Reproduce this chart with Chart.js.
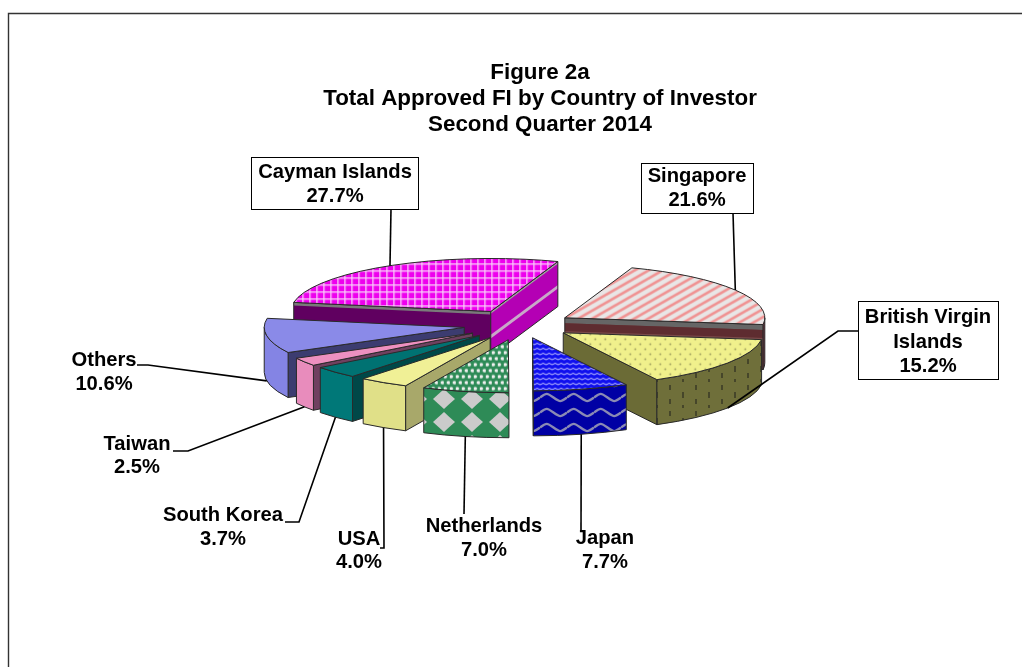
<!DOCTYPE html>
<html><head><meta charset="utf-8">
<style>html,body{margin:0;padding:0;background:#fff;overflow:hidden}canvas{display:block}</style>
<script src="https://cdn.jsdelivr.net/npm/chart.js@4/dist/chart.umd.min.js"></script>
</head><body>
<div style="position:relative;width:1022px;height:667px"><canvas id="c" width="1022" height="667"></canvas></div>
<script>
const categories = ["Singapore","British Virgin Islands","Japan","Netherlands","USA","South Korea","Taiwan","Others","Cayman Islands"];
const shares = [21.6,15.2,7.7,7.0,4.0,3.7,2.5,10.6,27.7];
const explodePx = [52,52,50,57,57,57,57,57,59];
const titleLines = ["Figure 2a","Total Approved FI by Country of Investor","Second Quarter 2014"];

const SQUASH=0.265, DEPTH=45, RADIUS=200, ROTATION=19.6;
const FONT='bold 20.2px "Liberation Sans", Arial, sans-serif';
const OUTLINE='#2a2a2a';

function tile(w,h,paint){const c=document.createElement('canvas');c.width=w;c.height=h;const g=c.getContext('2d');paint(g,w,h);return c;}
const ctxMain=document.getElementById('c').getContext('2d');
function pat(w,h,paint,squashed){const p=ctxMain.createPattern(tile(w,h,paint),'repeat');
  if(squashed)p.setTransform(new DOMMatrix().scale(1,1/SQUASH));return p;}
function bg(g,w,h,col){g.fillStyle=col;g.fillRect(0,0,w,h);}
function dot(g,x,y,r,col){g.fillStyle=col;g.beginPath();g.arc(x,y,r,0,7);g.fill();}
function zig(g,w,h,lw,col,amp){g.strokeStyle=col;g.lineWidth=lw;g.lineJoin='round';
  g.beginPath();g.moveTo(-1,h/2+amp);g.lineTo(w/2,h/2-amp);g.lineTo(w+1,h/2+amp);g.stroke();}
function wave(g,w,h,lw,col,amp){g.strokeStyle=col;g.lineWidth=lw;g.beginPath();
  g.moveTo(0,h/2);g.bezierCurveTo(w/4,h/2-amp*2,w/4,h/2-amp*2,w/2,h/2);g.bezierCurveTo(3*w/4,h/2+amp*2,3*w/4,h/2+amp*2,w,h/2);g.stroke();}
function diamond(g,x,y,rx,ry){g.beginPath();g.moveTo(x,y-ry);g.lineTo(x+rx,y);g.lineTo(x,y+ry);g.lineTo(x-rx,y);g.closePath();g.fill();}

const topFill=[
 pat(14,8,(g,w,h)=>{bg(g,w,h,'#e9e6e6');g.strokeStyle='#f09292';g.lineWidth=2.6;
    for(const s of [-14,0,14]){g.beginPath();g.moveTo(s-2,h+1.2);g.lineTo(s+16,-1.2);g.stroke();}},true),
 pat(10,10,(g,w,h)=>{bg(g,w,h,'#f0f08c');dot(g,2.5,2.5,.9,'#9a9a5c');dot(g,7.5,7.5,.9,'#9a9a5c');},true),
 pat(6,5,(g,w,h)=>{bg(g,w,h,'#1010ee');zig(g,w,h,1,'#c8c8ff',1);},true),
 pat(6,12,(g,w,h)=>{bg(g,w,h,'#2e8b57');dot(g,1.5,3,1.8,'#efefef');dot(g,4.5,9,1.8,'#efefef');dot(g,-1.5,3,1.8,'#efefef');dot(g,7.5,9,1.8,'#efefef');},true),
 '#f0f096','#007272','#ee90c0','#8a8ae8',
 pat(7,7,(g,w,h)=>{bg(g,w,h,'#ee00ee');g.fillStyle='#fad0fa';g.fillRect(3,0,1.3,h);g.fillRect(0,3,w,1.3);},true)
];
const outerFill=[
 '#7a2c3c',
 pat(26,26,(g,w,h)=>{bg(g,w,h,'#6f6f3a');g.fillStyle='#46462a';g.fillRect(6,2,2,6);g.fillRect(19,9,2,5);g.fillRect(6,15,2,3);g.fillRect(19,21,2,5);},false),
 pat(27,15,(g,w,h)=>{bg(g,w,h,'#0000a4');wave(g,w,h,2.4,'#8a8ab4',2.4);},false),
 pat(28,23,(g,w,h)=>{bg(g,w,h,'#2e8b57');g.fillStyle='#cbcbcb';
    for(const dx of [-28,0])for(const y of [-15,8,31])diamond(g,24+dx,y,11,10);},false),
 '#e0e088','#007878','#e88cbc','#8484e4','#b000b0'
];
const radialFill=['#6e3a3a','#6b6b36','#0000a4','#2e8b57','#a8a86a','#004848','#704060','#3c3c70','#600060'];
const radialEndFill={8:'#b400b4'};
const radialBands={0:[[0,.12,'#666666'],[.12,.3,'#5e2c30'],[.3,.5,'#7a4a4a']],8:[[0,.07,'#7a7a7a']]};
const radialEndBands={8:[[0,.05,'#a0a0a0'],[.52,.6,'#c8a8c8']]};
const paintOrder=[8,0,7,6,5,4,3,1,2];

const labelLayout={
 0:{lines:["Singapore"],cx:697,y:[176,200],box:[641,163,112,50],path:[[733,213]]},
 1:{lines:["British Virgin","Islands"],cx:928,y:[317,342,366],box:[858,301,140,78],path:[[838,331],[858,331]]},
 2:{lines:["Japan"],cx:605,y:[538,562],path:[[581,530]]},
 3:{lines:["Netherlands"],cx:484,y:[526,550],path:[[464,514]]},
 4:{lines:["USA"],cx:359,y:[539,562],path:[[384,548],[380,548]]},
 5:{lines:["South Korea"],cx:223,y:[515,539],path:[[299,522],[285,522]]},
 6:{lines:["Taiwan"],cx:137,y:[444,467],path:[[188,451],[173,451]]},
 7:{lines:["Others"],cx:104,y:[360,384],path:[[148,365],[137,365]]},
 8:{lines:["Cayman Islands"],cx:335,y:[172,196],box:[251,157,167,52],path:[[391,209]]}
};

function geom(arc,i){
 const m=(arc.startAngle+arc.endAngle)/2,d=explodePx[i];
 const X=arc.x+Math.cos(m)*d, Y=arc.y+Math.sin(m)*d*SQUASH, R=arc.outerRadius;
 const pt=a=>[X+R*Math.cos(a),Y+R*SQUASH*Math.sin(a)];
 return {m,d,X,Y,R,pt,s:arc.startAngle,e:arc.endAngle};
}
function quad(ctx,a,b,f0,f1){ctx.beginPath();ctx.moveTo(a[0],a[1]+DEPTH*f0);ctx.lineTo(b[0],b[1]+DEPTH*f0);ctx.lineTo(b[0],b[1]+DEPTH*f1);ctx.lineTo(a[0],a[1]+DEPTH*f1);ctx.closePath();}
function radialWall(ctx,a,b,fill,bands){
 quad(ctx,a,b,0,1);ctx.fillStyle=fill;ctx.fill();
 (bands||[]).forEach(t=>{quad(ctx,a,b,t[0],t[1]);ctx.fillStyle=t[2];ctx.fill();});
 quad(ctx,a,b,0,1);ctx.stroke();
}
function outerWall(ctx,g,fill){
 for(let n=-2;n<=2;n++){
  const lo=Math.max(g.s,n*2*Math.PI),hi=Math.min(g.e,n*2*Math.PI+Math.PI);
  if(hi<=lo)continue;
  ctx.beginPath();
  ctx.ellipse(g.X,g.Y,g.R,g.R*SQUASH,0,lo,hi);
  ctx.ellipse(g.X,g.Y+DEPTH,g.R,g.R*SQUASH,0,hi,lo,true);
  ctx.closePath();ctx.fillStyle=fill;ctx.fill();ctx.stroke();
 }
}
const pie3d={
 id:'pie3d',
 afterLayout(chart){const t=chart.titleBlock;t.left+=19.5;t.right+=19.5;},
 beforeDraw(chart){const c=chart.ctx;c.save();c.fillStyle='#fff';c.fillRect(0,0,chart.width,chart.height);
   c.strokeStyle='#333';c.lineWidth=1.4;c.beginPath();c.moveTo(8.5,chart.height);c.lineTo(8.5,13.5);c.lineTo(chart.width,13.5);c.stroke();c.restore();},
 beforeDatasetDraw(chart,args){
  const ctx=chart.ctx,arcs=args.meta.data,cy=arcs[0].y;
  ctx.save();ctx.lineWidth=1;ctx.strokeStyle=OUTLINE;ctx.lineJoin='round';
  paintOrder.forEach(i=>{
   const arc=arcs[i],g=geom(arc,i),tip=[g.X,g.Y],ps=g.pt(g.s),pe=g.pt(g.e);
   if(ps[0]<tip[0]-.5)radialWall(ctx,tip,ps,radialFill[i],radialBands[i]);
   if(pe[0]>tip[0]+.5)radialWall(ctx,tip,pe,radialEndFill[i]||radialFill[i],radialEndBands[i]||radialBands[i]);
   outerWall(ctx,g,outerFill[i]);
   ctx.save();ctx.translate(0,cy);ctx.scale(1,SQUASH);ctx.translate(0,-cy);
   ctx.translate(Math.cos(g.m)*g.d,Math.sin(g.m)*g.d);arc.draw(ctx);ctx.restore();
   ctx.beginPath();ctx.moveTo(tip[0],tip[1]);ctx.ellipse(g.X,g.Y,g.R,g.R*SQUASH,0,g.s,g.e);ctx.closePath();ctx.stroke();
  });
  ctx.restore();
  return false;
 },
 afterDraw(chart){
  const ctx=chart.ctx,arcs=chart.getDatasetMeta(0).data;
  ctx.save();
  arcs.forEach((arc,i)=>{
   const g=geom(arc,i),L=labelLayout[i],p=g.pt(g.m),low=Math.sin(g.m)>0;
   ctx.strokeStyle='#000';ctx.lineWidth=1.6;ctx.beginPath();ctx.moveTo(p[0],p[1]+(low?DEPTH:0));
   L.path.forEach(q=>ctx.lineTo(q[0],q[1]));ctx.stroke();
   if(L.box){ctx.fillStyle='#fff';ctx.fillRect(...L.box);ctx.lineWidth=1;ctx.strokeStyle='#000';
     ctx.strokeRect(L.box[0]+.5,L.box[1]+.5,L.box[2],L.box[3]);}
   ctx.fillStyle='#000';ctx.font=FONT;ctx.textAlign='center';ctx.textBaseline='middle';
   const txt=[...L.lines,shares[i].toFixed(1)+'%'];
   txt.forEach((t,k)=>ctx.fillText(t,L.cx,L.y[k]));
  });
  ctx.restore();
 }
};
new Chart(document.getElementById('c'),{
 type:'pie',
 plugins:[pie3d],
 data:{labels:categories,datasets:[{
   data:shares,
   backgroundColor:topFill,
   borderWidth:0,hoverOffset:0,
   rotation:ROTATION,radius:RADIUS
 }]},
 options:{
  responsive:false,animation:false,events:[],
  layout:{padding:{left:19,right:0,top:0,bottom:155}},
  plugins:{legend:{display:false},tooltip:{enabled:false},
   title:{display:true,text:titleLines,color:'#000',align:'center',
     font:{family:'"Liberation Sans", Arial, sans-serif',size:22.4,weight:'bold',lineHeight:1.16},
     padding:{top:60,bottom:0}}}
 }
});
</script>
</body></html>
